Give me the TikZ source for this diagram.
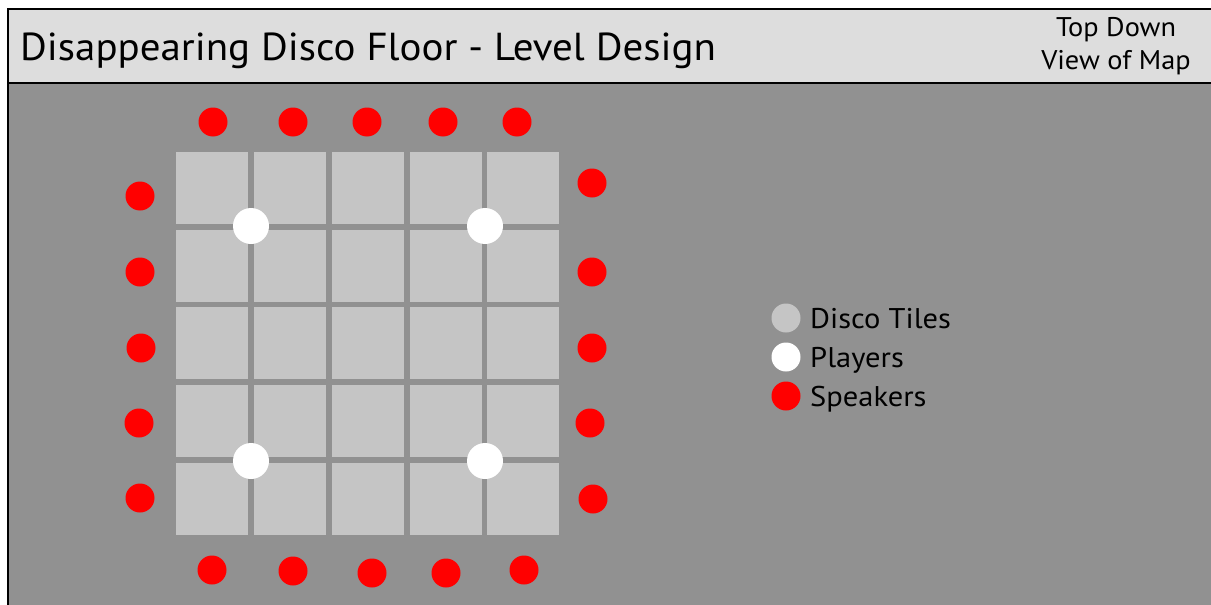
\documentclass[tikz,border=0pt]{standalone}
\usepackage{fontspec}
\setmainfont{PT Sans}
\definecolor{bodygray}{RGB}{145,145,145}
\definecolor{headgray}{RGB}{221,221,221}
\definecolor{tilegray}{RGB}{197,197,197}
\definecolor{spkred}{RGB}{255,0,0}
\tikzset{
  tilebox/.style={fill=tilegray, draw=none, minimum width=72pt, minimum height=72pt, inner sep=0pt},
  speaker/.style={circle, fill=spkred, draw=none, minimum size=29pt, inner sep=0pt},
  player/.style={circle, fill=white, draw=none, minimum size=36pt, inner sep=0pt},
  legdot/.style={circle, draw=none, minimum size=29pt, inner sep=0pt},
  legtext/.style={anchor=base west, inner sep=0pt, font=\fontsize{28.5}{30}\selectfont},
}
\begin{document}
\begin{tikzpicture}[x=1pt,y=-1pt]
\useasboundingbox (0,0) rectangle (1211,605);
\fill[white] (0,0) rectangle (1211,605);
\fill[bodygray] (8,83) rectangle (1211,605);
\fill[headgray] (8,9) rectangle (1211,83);
\draw[line width=1.5pt] (8,605) -- (8,9) -- (1211,9);
\draw[line width=1.5pt] (8,83) -- (1211,83);
\node[anchor=base west, inner sep=0pt, font=\fontsize{39}{42}\selectfont] (title) at (20,60) {\scalebox{1.05}[1]{Disappearing Disco Floor - Level Design}};
\node[anchor=base, inner sep=0pt, font=\fontsize{27}{30}\selectfont] (view1) at (1116,36) {\scalebox{1.05}[1]{Top Down}};
\node[anchor=base, inner sep=0pt, font=\fontsize{27}{30}\selectfont] (view2) at (1116,69) {\scalebox{1.05}[1]{View of Map}};
% tiles
\foreach \c/\x in {1/212,2/290,3/368,4/446,5/523}{
  \foreach \r/\y in {1/188,2/266,3/343,4/421,5/499}{
    \node[tilebox] (t\c\r) at (\x,\y) {};
  }
}
% players
\node[player] (p1) at (251,226) {};
\node[player] (p2) at (485,226) {};
\node[player] (p3) at (251,461) {};
\node[player] (p4) at (485,461) {};
% speakers top
\node[speaker] (st1) at (213,122) {};
\node[speaker] (st2) at (293,122) {};
\node[speaker] (st3) at (367,122) {};
\node[speaker] (st4) at (443,122) {};
\node[speaker] (st5) at (517,122) {};
% left
\node[speaker] (sl1) at (140,196) {};
\node[speaker] (sl2) at (140,272) {};
\node[speaker] (sl3) at (141,348) {};
\node[speaker] (sl4) at (139,423) {};
\node[speaker] (sl5) at (140,498) {};
% right
\node[speaker] (sr1) at (592,183) {};
\node[speaker] (sr2) at (592,272) {};
\node[speaker] (sr3) at (592,348) {};
\node[speaker] (sr4) at (590,423) {};
\node[speaker] (sr5) at (593,499) {};
% bottom
\node[speaker] (sb1) at (212,570) {};
\node[speaker] (sb2) at (293,571) {};
\node[speaker] (sb3) at (372,573) {};
\node[speaker] (sb4) at (446,573) {};
\node[speaker] (sb5) at (524,570) {};
% legend
\node[legdot, fill=tilegray] (l1) at (786,318) {};
\node[legdot, fill=white] (l2) at (786,357) {};
\node[legdot, fill=spkred] (l3) at (786,396) {};
\node[legtext] (lt1) at (810,328) {\scalebox{1.07}[1]{Disco Tiles}};
\node[legtext] (lt2) at (810,367) {\scalebox{1.07}[1]{Players}};
\node[legtext] (lt3) at (810,406) {\scalebox{1.07}[1]{Speakers}};
\end{tikzpicture}
\end{document}
